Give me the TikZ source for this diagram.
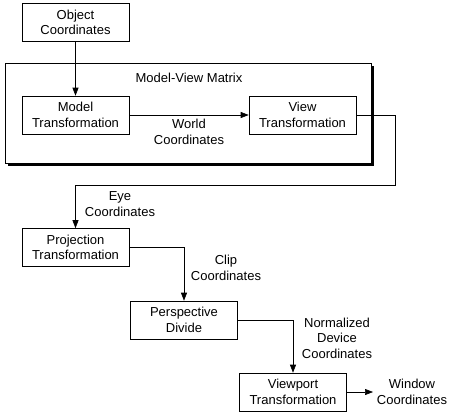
\documentclass[tikz,border=0pt]{standalone}
\usepackage{fontspec}
\setmainfont{Liberation Sans}
\usetikzlibrary{arrows.meta}
\tikzset{
  stage/.style={draw, line width=0.6pt, fill=white, minimum width=107pt,
    minimum height=38pt, inner sep=0pt, align=center},
  caption/.style={inner sep=0pt, align=center},
  flow/.style={line width=0.6pt, -{Triangle[length=8pt,width=6pt]}}
}
\begin{document}
\begin{tikzpicture}[x=1pt,y=-1pt,font=\fontsize{13}{15.5}\selectfont]
  \useasboundingbox (0,0) rectangle (450,416);

  % Model-View Matrix frame with shadow
  \fill (8,66) rectangle (374,166);
  \node[draw, line width=0.6pt, fill=white, minimum width=366pt,
    minimum height=100pt, inner sep=0pt] (matrix) at (188,113) {};
  \node[caption] (matrixlabel) at (189,78) {Model-View Matrix};

  % Stages
  \node[stage] (object) at (75.5,22.5) {Object\\Coordinates};
  \node[stage] (model) at (75.5,115) {Model\\Transformation};
  \node[stage] (view) at (302.5,115) {View\\Transformation};
  \node[stage] (projection) at (75.5,247.5) {Projection\\Transformation};
  \node[stage] (perspective) at (184,320) {Perspective\\Divide};
  \node[stage] (viewport) at (293,392) {Viewport\\Transformation};

  % Coordinate labels
  \node[caption] (world) at (189,132) {World\\Coordinates};
  \node[caption] (eye) at (120,204) {Eye\\Coordinates};
  \node[caption] (clip) at (226,268) {Clip\\Coordinates};
  \node[caption] (ndc) at (337,338) {Normalized\\Device\\Coordinates};
  \node[caption] (window) at (412,392) {Window\\Coordinates};

  \coordinate (eyeturn) at (395,185);
  \coordinate (windowend) at (373,392);

  % Connectors
  \draw[flow] (object) -- (model);
  \draw[flow] (model) -- (view);
  \draw[flow] (view.east) -| (eyeturn) -| (projection.north);
  \draw[flow] (projection.east) -| (perspective.north);
  \draw[flow] (perspective.east) -| (viewport.north);
  \draw[flow] (viewport.east) -- (windowend);
\end{tikzpicture}
\end{document}
